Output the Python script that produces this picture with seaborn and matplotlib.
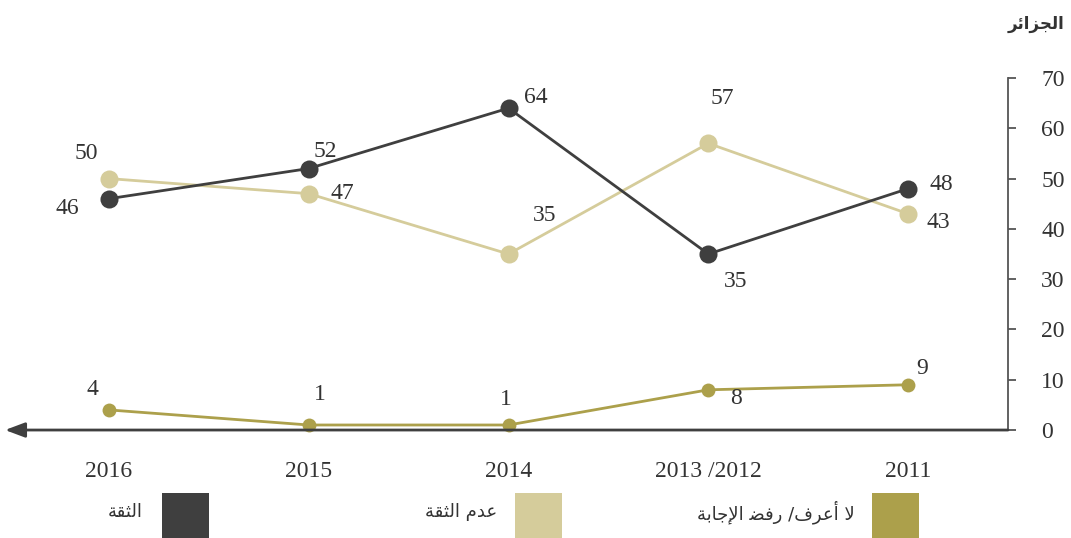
import seaborn as sns
import matplotlib.pyplot as plt
import pandas as pd
from matplotlib.patches import Rectangle

years = ['2016', '2015', '2014', '2013 /2012', '2011']
trust = [46, 52, 64, 35, 48]
no_trust = [50, 47, 35, 57, 43]
dont_know = [4, 1, 1, 8, 9]

# Arabic text written in visual order with presentation forms (matplotlib has no shaping)
title_ar = '\uFEAE\uFE8B\uFE8D\uFEB0\uFEA0\uFEDF\uFE8D'          # الجزائر
lbl_trust = '\uFE94\uFED8\uFE9C\uFEDF\uFE8D'                     # الثقة
lbl_no_trust = '\uFE94\uFED8\uFE9C\uFEDF\uFE8D \uFEE1\uFEAA\uFECB'  # عدم الثقة
lbl_dk = ('\uFE94\uFE91\uFE8E\uFE9F\uFEF9\uFE8D \uFEC0\uFED3\uFEAD /'
          '\uFED1\uFEAE\uFECB\uFE83 \uFEFB')                      # لا أعرف/ رفض الإجابة

c_dark = '#3f3f3f'
c_light = '#d5cc9b'
c_olive = '#aca04b'

sns.set_style('white')
plt.rcParams['font.family'] = ['Liberation Serif', 'DejaVu Sans']

fig = plt.figure(figsize=(10.71, 5.38), dpi=100)
ax = fig.add_axes([0.0047, 0.2007, 0.9365, 0.6543])

df = pd.DataFrame({'year': years, 'trust': trust,
                   'no_trust': no_trust, 'dk': dont_know})

sns.lineplot(data=df, x='year', y='no_trust', color=c_light, lw=2,
             marker='o', markersize=13, markeredgewidth=0, ax=ax, clip_on=False)
sns.lineplot(data=df, x='year', y='trust', color=c_dark, lw=2,
             marker='o', markersize=13, markeredgewidth=0, ax=ax, clip_on=False)
sns.lineplot(data=df, x='year', y='dk', color=c_olive, lw=2,
             marker='o', markersize=10, markeredgewidth=0, ax=ax, clip_on=False)

# value labels (offsets in points)
off_trust = [(-30, -7), (12, 12), (20, 8), (20, -20), (24, 3)]
off_no = [(-16, 18), (24, 0), (26, 28), (10, 32), (22, -6)]
off_dk = [(-12, 15), (8, 22), (-2, 18), (20, -6), (10, 12)]
for vals, offs in [(trust, off_trust), (no_trust, off_no), (dont_know, off_dk)]:
    for i, (v, o) in enumerate(zip(vals, offs)):
        ax.annotate(str(v), (i, v), xytext=o, textcoords='offset points',
                    ha='center', va='center', fontsize=17, color='#333333')

ax.set_xlim(-0.52, 4.5)
ax.set_ylim(0, 70)
ax.set_yticks(range(0, 71, 10))
ax.yaxis.tick_right()
ax.tick_params(axis='y', direction='out', length=6, width=1.3, color='#555555',
               pad=18, labelsize=17, labelcolor='#333333', right=True, left=False)
ax.tick_params(axis='x', length=0, pad=22, labelsize=17, labelcolor='#333333')
ax.set_xlabel('')
ax.set_ylabel('')

for s in ['top', 'left', 'bottom']:
    ax.spines[s].set_visible(False)
ax.spines['right'].set_color('#555555')
ax.spines['right'].set_linewidth(1.3)

# x axis arrow pointing left
ax.annotate('', xy=(0, 0), xytext=(1, 0), xycoords='axes fraction',
            arrowprops=dict(arrowstyle='-|>,head_length=1.2,head_width=0.45',
                            color=c_dark, lw=2, shrinkA=0, shrinkB=0))

fig.text(0.994, 0.955, title_ar, ha='right', va='center', fontsize=12,
         fontweight='bold', family=['DejaVu Sans'], color='#333333')

# legend
items = [(c_dark, lbl_trust, 162, 143), (c_light, lbl_no_trust, 515, 497),
         (c_olive, lbl_dk, 872, 855)]
W, H = 1071, 538
for col, lbl, x0, tx in items:
    fig.add_artist(Rectangle((x0 / W, 0), 47 / W, 45 / H, transform=fig.transFigure,
                             color=col, lw=0))
    fig.text(tx / W, 1 - 512 / H, lbl, ha='right', va='center', fontsize=13,
             family=['DejaVu Sans'], color='#333333')

fig.savefig('out.png', dpi=100)
